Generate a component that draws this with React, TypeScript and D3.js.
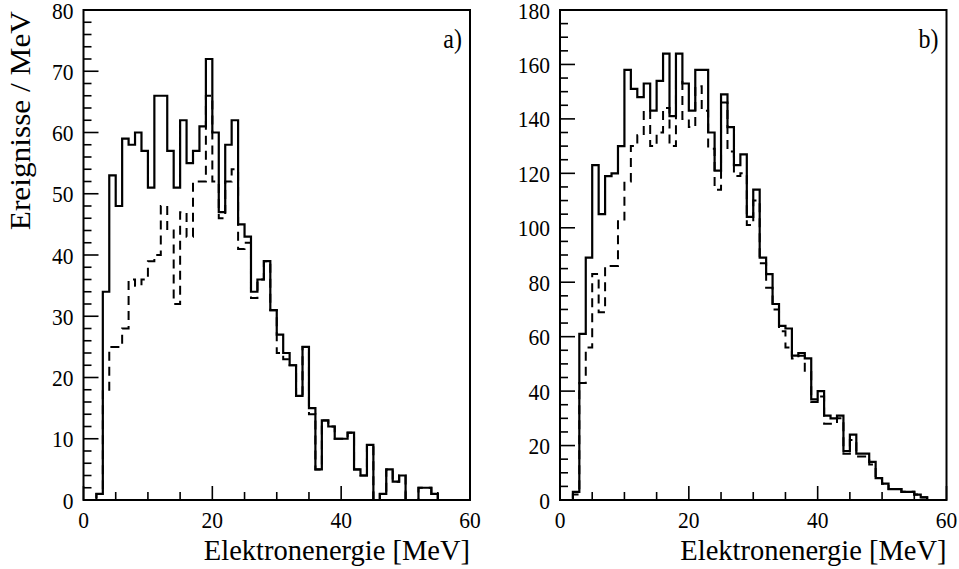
import React from "react";
import * as d3 from "d3";

// Energy bins: 1 MeV wide, 0..60 MeV
const binEdges = d3.range(0, 61);

// Panel a) counts per MeV
const aSolid = [0,0,1,34,53,48,59,58,60,57,51,66,66,57,51,62,55,57,61,72,60,47,58,62,45,43,34,36,39,31,27,24,22,17,25,15,5,13,12,10,10,11,5,4,9,0,1,5,3,4,0,0,2,2,1,0,0,0,0,0];
const aDashed = [0,0,1,18,25,25,28,36,35,36,39,40,48,44,32,47,43,52,52,66,52,46,52,54,41,42,33,36,39,31,24,23,22,17,25,14,5,13,12,10,10,11,5,4,9,0,1,5,3,4,0,0,2,2,1,0,0,0,0,0];

// Panel b) counts per MeV
const bSolid = [0,0,3,61,89,123,105,119,120,130,158,151,148,153,143,154,164,141,164,153,143,158,158,135,121,149,137,123,127,104,114,89,83,72,64,63,53,54,52,37,40,31,30,31,18,24,17,17,14,8,6,4,4,3,3,2,1,0,0,0];
const bDashed = [0,0,2,43,56,83,69,86,86,103,117,130,134,143,130,135,144,130,154,140,137,152,143,129,114,146,128,119,120,101,110,87,78,70,62,56,52,53,47,36,38,28,28,30,17,22,16,16,13,8,6,4,4,3,3,2,1,0,0,0];

const xTickLabels = [0, 20, 40, 60];
const aYTickLabels = [0, 10, 20, 30, 40, 50, 60, 70, 80];
const bYTickLabels = [0, 20, 40, 60, 80, 100, 120, 140, 160, 180];

const xTitle = "Elektronenergie [MeV]";
const yTitle = "Ereignisse / MeV";

const FONT = "Liberation Serif, Times New Roman, Times, serif";
const TOP = 10;
const BOTTOM = 500;
// glyphs are drawn slightly taller than wide
const STRETCH = 1.1;

function stepPath(values: number[], x: d3.ScaleLinear<number, number>, y: d3.ScaleLinear<number, number>) {
  const p = d3.path();
  p.moveTo(x(binEdges[0]), y(0));
  values.forEach((v, i) => {
    p.lineTo(x(binEdges[i]), y(v));
    p.lineTo(x(binEdges[i + 1]), y(v));
  });
  p.lineTo(x(binEdges[binEdges.length - 1]), y(0));
  return p.toString();
}

type PanelProps = {
  left: number;
  right: number;
  yMax: number;
  yMinorStep: number;
  yLabels: number[];
  solid: number[];
  dashed: number[];
  tag: string;
};

function Panel({ left, right, yMax, yMinorStep, yLabels, solid, dashed, tag }: PanelProps) {
  const x = d3.scaleLinear().domain([0, 60]).range([left, right]);
  const y = d3.scaleLinear().domain([0, yMax]).range([BOTTOM, TOP]);
  const xMinor = d3.range(0, 60 + 0.001, 5);
  const yMinor = d3.range(0, yMax + 0.001, yMinorStep);
  const yMajorSet = new Set(yLabels);
  const xMajorSet = new Set(xTickLabels);

  return (
    <g>
      {/* ticks along the left edge */}
      {yMinor.map((t) => {
        const len = yMajorSet.has(t) ? 15 : 8;
        return (
          <line key={"yt" + t} x1={left} x2={left + len} y1={y(t)} y2={y(t)} stroke="#000" strokeWidth={1.6} />
        );
      })}
      {/* ticks along the bottom edge */}
      {xMinor.map((t) => {
        const len = xMajorSet.has(t) ? 14 : 8;
        return (
          <line key={"xt" + t} x1={x(t)} x2={x(t)} y1={BOTTOM} y2={BOTTOM - len} stroke="#000" strokeWidth={1.6} />
        );
      })}
      <path d={stepPath(dashed, x, y)} fill="none" stroke="#000" strokeWidth={2} strokeDasharray="9 6" />
      <path d={stepPath(solid, x, y)} fill="none" stroke="#000" strokeWidth={2.2} strokeLinejoin="miter" />
      <rect x={left} y={TOP} width={right - left} height={BOTTOM - TOP} fill="none" stroke="#000" strokeWidth={2} />
      {yLabels.map((t) => (
        <text
          key={"yl" + t}
          transform={`translate(${left - 10},${y(t) + 8.5}) scale(1,${STRETCH})`}
          textAnchor="end"
          style={{ fontFamily: FONT, fontSize: 21.5 }}
        >
          {t}
        </text>
      ))}
      {xTickLabels.map((t) => (
        <text
          key={"xl" + t}
          transform={`translate(${x(t)},528) scale(1,${STRETCH})`}
          textAnchor="middle"
          style={{ fontFamily: FONT, fontSize: 21.5 }}
        >
          {t}
        </text>
      ))}
      <text
        transform={`translate(${right},560) scale(1,1.05)`}
        textAnchor="end"
        style={{ fontFamily: FONT, fontSize: 28.5 }}
      >
        {xTitle}
      </text>
      <text
        transform={`translate(${right - 8},48) scale(1,${STRETCH})`}
        textAnchor="end"
        style={{ fontFamily: FONT, fontSize: 24 }}
      >
        {tag}
      </text>
    </g>
  );
}

export default function App() {
  return (
    <svg
      width={959}
      height={569}
      viewBox="0 0 959 569"
      style={{ position: "absolute", left: 0, top: 0, background: "#fff" }}
    >
      <rect width={959} height={569} fill="#fff" />
      <Panel left={83.5} right={470} yMax={80} yMinorStep={2} yLabels={aYTickLabels} solid={aSolid} dashed={aDashed} tag="a)" />
      <Panel left={560} right={946.5} yMax={180} yMinorStep={5} yLabels={bYTickLabels} solid={bSolid} dashed={bDashed} tag="b)" />
      <text
        transform={`translate(30,11) rotate(-90) scale(${STRETCH},1)`}
        textAnchor="end"
        style={{ fontFamily: FONT, fontSize: 28.5 }}
      >
        {yTitle}
      </text>
    </svg>
  );
}
